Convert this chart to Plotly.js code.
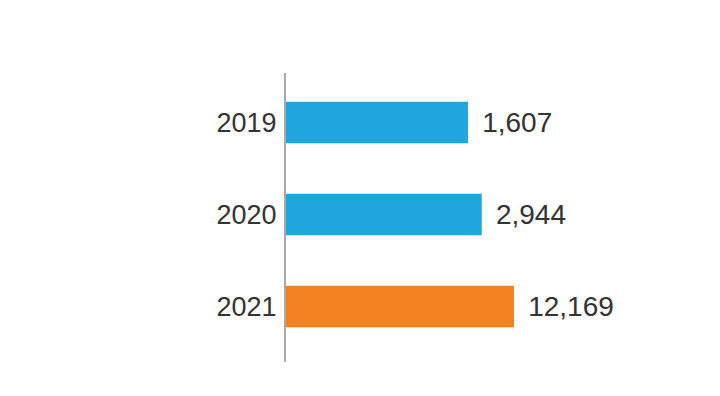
<!DOCTYPE html>
<html>
<head>
<meta charset="utf-8">
<script src="https://cdn.plot.ly/plotly-3.0.1.min.js"></script>
<style>html,body{margin:0;padding:0;background:#fff;}#chart{width:720px;height:396px;}</style>
</head>
<body>
<div id="chart"></div>
<script>
const years = ['2019', '2020', '2021'];
const values = [1607, 2944, 12169];
const labels = ['1,607', '2,944', '12,169'];
const colors = ['#21a5de', '#21a5de', '#f58220'];

const FONT = 'Liberation Sans, Arial, Helvetica, sans-serif';

const trace = {
  type: 'bar',
  orientation: 'h',
  y: years,
  x: values,
  text: labels,
  texttemplate: '<span style="font-size:12px">\u00a0</span>\u00a0%{text}',
  textposition: 'outside',
  constraintext: 'none',
  cliponaxis: false,
  textfont: {family: FONT, size: 28, color: '#333333'},
  marker: {color: colors},
  width: 0.45,
  hoverinfo: 'none'
};

const layout = {
  width: 720,
  height: 396,
  margin: {l: 286, r: 100, t: 73, b: 34},
  paper_bgcolor: '#ffffff',
  plot_bgcolor: '#ffffff',
  showlegend: false,
  xaxis: {
    type: 'log',
    range: [-0.274, 6.112],
    showgrid: false,
    zeroline: false,
    showline: false,
    showticklabels: false,
    ticks: ''
  },
  yaxis: {
    type: 'category',
    range: [2.603, -0.538],
    showgrid: false,
    zeroline: false,
    showline: true,
    linecolor: '#aaaaaa',
    linewidth: 2,
    ticks: '',
    ticklabelstandoff: 2,
    tickfont: {family: FONT, size: 27, color: '#333333'}
  }
};

Plotly.newPlot('chart', [trace], layout, {displayModeBar: false, staticPlot: true});
</script>
</body>
</html>
